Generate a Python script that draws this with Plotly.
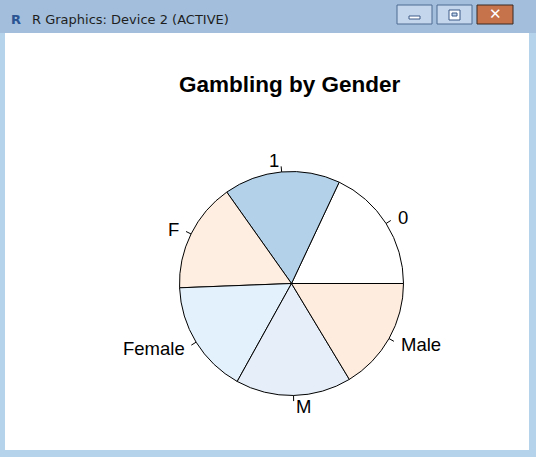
import math
import plotly.graph_objects as go

# ---- data ----
labels = ["0", "1", "F", "Female", "M", "Male"]
values = [64.8, 60.5, 56.9, 58.8, 60.1, 58.9]
colors = ["#FFFFFF", "#B3D1E8", "#FEEEE1", "#E3F1FC", "#E6EFF9", "#FEECDF"]
title_text = "Gambling by Gender"
window_title = "R Graphics: Device 2 (ACTIVE)"

W, H = 536, 457
CX, CY, R = 291.5, 283.5, 112.0

def px(x):
    return x / W

def py(y):
    return 1 - y / H

total = sum(values)
first_deg = 360.0 * values[0] / total

fig = go.Figure()
fig.add_trace(go.Pie(
    labels=labels, values=values, sort=False, direction="counterclockwise",
    rotation=90 - first_deg, textinfo="none", hoverinfo="label+value",
    marker=dict(colors=colors, line=dict(color="#000000", width=1)),
    domain=dict(x=[px(CX - R), px(CX + R)], y=[py(CY + R), py(CY - R)]),
    showlegend=False,
))

shapes = []
annotations = []

# window chrome
BORDER = "#B5D3EA"
shapes.append(dict(type="rect", xref="paper", yref="paper", x0=0, x1=1, y0=0, y1=1,
                   fillcolor=BORDER, line=dict(width=0), layer="below"))
shapes.append(dict(type="rect", xref="paper", yref="paper", x0=0, x1=1, y0=py(33), y1=1,
                   fillcolor="#A2BEDC", line=dict(width=0), layer="below"))
shapes.append(dict(type="rect", xref="paper", yref="paper", x0=px(5), x1=px(529), y0=py(450), y1=py(33),
                   fillcolor="#FFFFFF", line=dict(width=0), layer="below"))
# buttons
for x0, x1, fill in [(397, 432, "#C3D6EC"), (437, 472, "#C3D6EC"), (477, 513, "#C6724A")]:
    shapes.append(dict(type="rect", xref="paper", yref="paper", x0=px(x0), x1=px(x1), y0=py(24), y1=py(5),
                       fillcolor=fill, line=dict(color="#4E6A92" if fill != "#C6724A" else "#3A2A22", width=1),
                       layer="below"))
# minimize glyph
shapes.append(dict(type="rect", xref="paper", yref="paper", x0=px(409), x1=px(420), y0=py(19), y1=py(16),
                   fillcolor="#FFFFFF", line=dict(color="#3C5A86", width=1)))
# maximize glyph
shapes.append(dict(type="rect", xref="paper", yref="paper", x0=px(449), x1=px(460), y0=py(20), y1=py(10),
                   fillcolor="#FFFFFF", line=dict(color="#3C5A86", width=1)))
shapes.append(dict(type="rect", xref="paper", yref="paper", x0=px(452), x1=px(457), y0=py(16), y1=py(13),
                   fillcolor="#C3D6EC", line=dict(color="#3C5A86", width=1)))
annotations.append(dict(x=px(495), y=py(14.5), xref="paper", yref="paper", text="<b>✕</b>",
                        showarrow=False, font=dict(family="DejaVu Sans", size=15, color="#FFFFFF"),
                        xanchor="center", yanchor="middle"))
annotations.append(dict(x=px(9), y=py(19), xref="paper", yref="paper", text="<b>R</b>",
                        showarrow=False, font=dict(family="DejaVu Sans", size=13, color="#2B5592"),
                        xanchor="left", yanchor="middle"))
annotations.append(dict(x=px(30), y=py(19), xref="paper", yref="paper", text=window_title,
                        showarrow=False, font=dict(family="DejaVu Sans", size=13, color="#1E1E1E"),
                        xanchor="left", yanchor="middle"))

# title
annotations.append(dict(x=px(290), y=py(85), xref="paper", yref="paper", text="<b>" + title_text + "</b>",
                        showarrow=False, font=dict(family="Liberation Sans", size=22.5, color="#000000"),
                        xanchor="center", yanchor="middle"))

# R-style labels with ticks
cum = 0.0
for lab, v in zip(labels, values):
    mid = 2 * math.pi * (cum + v / 2) / total
    cum += v
    c, s = math.cos(mid), math.sin(mid)
    shapes.append(dict(type="line", xref="paper", yref="paper",
                       x0=px(CX + R * c), y0=py(CY - R * s),
                       x1=px(CX + 1.05 * R * c), y1=py(CY - 1.05 * R * s),
                       line=dict(color="#000000", width=1)))
    annotations.append(dict(x=px(CX + 1.1 * R * c), y=py(CY - 1.1 * R * s), xref="paper", yref="paper",
                            text=lab, showarrow=False,
                            font=dict(family="Liberation Sans", size=18.5, color="#000000"),
                            xanchor="right" if c < 0 else "left", yanchor="middle"))

fig.update_layout(
    width=W, height=H, margin=dict(l=0, r=0, t=0, b=0),
    paper_bgcolor=BORDER, plot_bgcolor=BORDER,
    shapes=shapes, annotations=annotations,
)
fig.write_html("out.html")
